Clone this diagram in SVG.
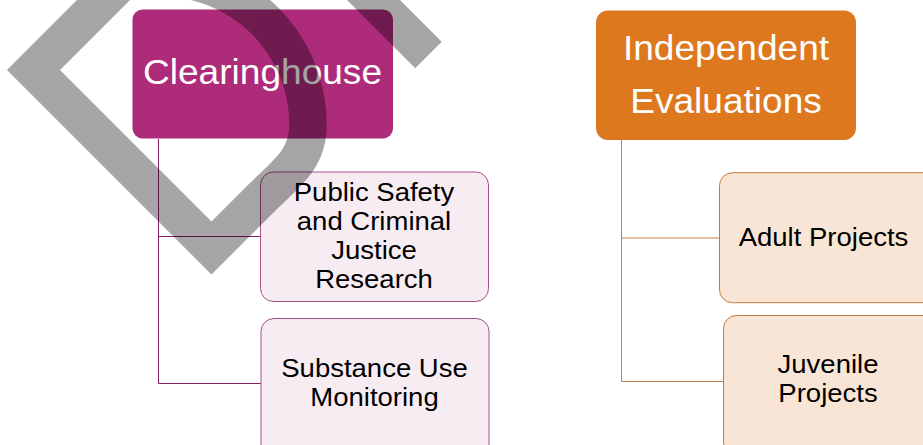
<svg xmlns="http://www.w3.org/2000/svg" width="923" height="445" viewBox="0 0 923 445">
<style>
text{font-family:"Liberation Sans",Arial,sans-serif;text-anchor:middle}
.t1{font-size:34.5px;fill:#ffffff}
.t2{font-size:25.6px;fill:#000000}
.main1{fill:#ae2b7a}
.main2{fill:#dd781e}
.sub1{fill:#f8ecf3;stroke:#a3508a;stroke-width:1}
.sub2{fill:#f9e5d5;stroke:#c47b3a;stroke-width:1}
.c1{fill:none;stroke:#861f62;stroke-width:1}
.c2{fill:none;stroke:#c4804a;stroke-width:1}
</style>
<rect width="923" height="445" fill="#ffffff"/>
<g id="connectors">
<path class="c1" d="M158.5,139 V383.5 H261 M158.5,236.5 H260"/>
<path class="c2" d="M621.5,140 V381.5 H723 M621.5,238 H719"/>
</g>
<g id="clearinghouse">
<rect class="main1" x="132.5" y="9.5" width="260.5" height="129" rx="10"/>
<text class="t1" transform="translate(262.5,84) scale(1.075,1)" x="0" y="0">Clearinghouse</text>
</g>
<g id="independent-evaluations">
<rect class="main2" x="596" y="10.5" width="260" height="129.5" rx="12"/>
<text class="t1" transform="translate(726,60) scale(1.075,1)"><tspan x="0" y="0">Independent</tspan><tspan x="0" y="53.3">Evaluations</tspan></text>
</g>
<g id="public-safety">
<rect class="sub1" x="260.5" y="172" width="228" height="129.5" rx="13"/>
<text class="t2" transform="translate(374,200.7) scale(1.075,1)"><tspan x="0" y="0">Public Safety</tspan><tspan x="0" y="29">and Criminal</tspan><tspan x="0" y="58">Justice</tspan><tspan x="0" y="87">Research</tspan></text>
</g>
<g id="substance-use">
<rect class="sub1" x="261" y="318.5" width="228" height="140" rx="13"/>
<text class="t2" transform="translate(374.5,377.3) scale(1.075,1)"><tspan x="0" y="0">Substance Use</tspan><tspan x="0" y="28.7">Monitoring</tspan></text>
</g>
<g id="adult-projects">
<rect class="sub2" x="719.5" y="172.7" width="220" height="130" rx="13"/>
<text class="t2" transform="translate(823.5,246) scale(1.075,1)" x="0" y="0">Adult Projects</text>
</g>
<g id="juvenile-projects">
<rect class="sub2" x="723.5" y="315.5" width="220" height="140" rx="13"/>
<text class="t2" transform="translate(828,373.3) scale(1.075,1)"><tspan x="0" y="0">Juvenile</tspan><tspan x="0" y="28.4">Projects</tspan></text>
</g>
<g id="watermark" opacity="0.35" fill="none" stroke="#000000" stroke-width="37.5" stroke-linejoin="miter" stroke-miterlimit="4">
<path d="M153.5,-50 L33.5,70 L211.5,248 L262,197.5 C285,174.5 308,160 308,125 A147,147 0 0 0 186.5,-20"/>
<path d="M300,-73.5 L428.5,55"/>
</g>
</svg>
